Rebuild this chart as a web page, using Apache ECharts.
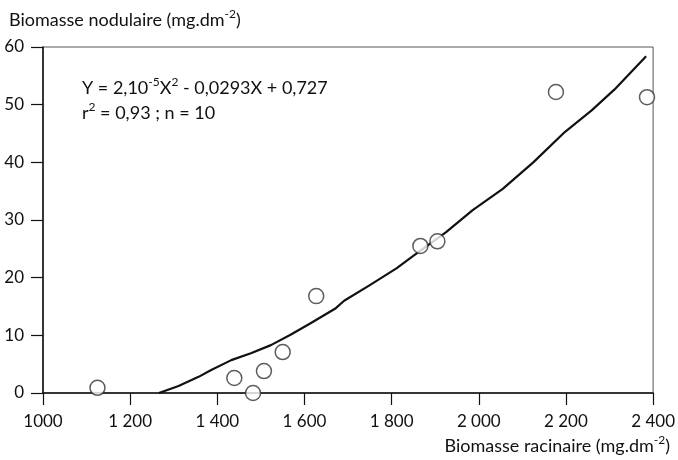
<!DOCTYPE html>
<html><head><meta charset="utf-8">
<script src="https://cdn.jsdelivr.net/npm/echarts@6/dist/echarts.min.js"></script>
<style>html,body{margin:0;padding:0;background:#fff}#c{width:678px;height:460px}</style>
</head><body><div id="c"></div>
<script>
// Observed points (root biomass, nodule biomass)
const rootBiomass = [1125, 1439, 1482, 1507, 1550, 1627, 1866, 1905, 2177, 2386];
const noduleBiomass = [0.9, 2.6, 0.0, 3.8, 7.1, 16.8, 25.5, 26.3, 52.2, 51.3];
// Fitted curve
const curveX = [1266, 1311, 1357, 1386, 1432, 1477, 1523, 1568, 1614, 1670, 1691, 1750, 1811, 1852, 1925, 1986, 2055, 2125, 2198, 2259, 2311, 2384];
const curveY = [0.0, 1.2, 2.8, 4.0, 5.7, 6.9, 8.3, 10.1, 12.1, 14.6, 16.0, 18.7, 21.6, 23.9, 27.9, 31.7, 35.4, 40.0, 45.3, 49.0, 52.6, 58.4];
const xTickLabels = {1000:'1000',1200:'1 200',1400:'1 400',1600:'1 600',1800:'1 800',2000:'2 000',2200:'2 200',2400:'2 400'};
const yTickLabels = ['0','10','20','30','40','50','60'];

const FONT = 'Lato';
const chart = echarts.init(document.getElementById('c'));
const sup = {fontSize: 12, verticalAlign: 'top', fontFamily: FONT, color: '#111', lineHeight: 17};
chart.setOption({
  animation: false,
  grid: {left: 43, right: 19, top: 47, bottom: 67, show: true, borderColor: '#555', borderWidth: 1},
  xAxis: {
    type: 'value', min: 1000, max: 2400, interval: 200,
    axisLine: {lineStyle: {color: '#111', width: 1.5}},
    axisTick: {show: true, length: 12, lineStyle: {color: '#111', width: 1.2}},
    axisLabel: {margin: 20, fontFamily: FONT, fontSize: 17, color: '#111', formatter: v => xTickLabels[v]},
    splitLine: {show: false}
  },
  yAxis: {
    type: 'value', min: 0, max: 60, interval: 10,
    axisLine: {show: true, lineStyle: {color: '#111', width: 1.5}},
    axisTick: {show: true, length: 12, lineStyle: {color: '#111', width: 1.2}},
    axisLabel: {margin: 19, fontFamily: FONT, fontSize: 17, color: '#111', formatter: v => yTickLabels[v / 10]},
    splitLine: {show: false}
  },
  series: [
    {type: 'line', data: curveX.map((x, i) => [x, curveY[i]]), showSymbol: false, smooth: false,
     lineStyle: {color: '#111', width: 2.2, join: 'round'}, z: 2},
    {type: 'scatter', data: rootBiomass.map((x, i) => [x, noduleBiomass[i]]), symbol: 'circle', symbolSize: 15,
     itemStyle: {color: '#fff', borderColor: '#333', borderWidth: 1.5}, z: 3}
  ],
  graphic: [
    {type: 'text', left: 9, top: 8, style: {
      text: 'Biomasse nodulaire (mg.dm{s|-2})', rich: {s: sup},
      fontFamily: FONT, fontSize: 18, fill: '#111', lineHeight: 24}},
    {type: 'text', right: 8, top: 434, style: {
      text: 'Biomasse racinaire (mg.dm{s|-2})', rich: {s: sup},
      fontFamily: FONT, fontSize: 18, fill: '#111', lineHeight: 24}},
    {type: 'text', left: 82, top: 76, style: {
      text: 'Y = 2,10{s|-5}X{s|2} - 0,0293X + 0,727', rich: {s: sup},
      fontFamily: FONT, fontSize: 18, fill: '#111', lineHeight: 24}},
    {type: 'text', left: 82, top: 101, style: {
      text: 'r{s|2} = 0,93 ; n = 10', rich: {s: sup},
      fontFamily: FONT, fontSize: 18, fill: '#111', lineHeight: 24}}
  ]
});
</script></body></html>
